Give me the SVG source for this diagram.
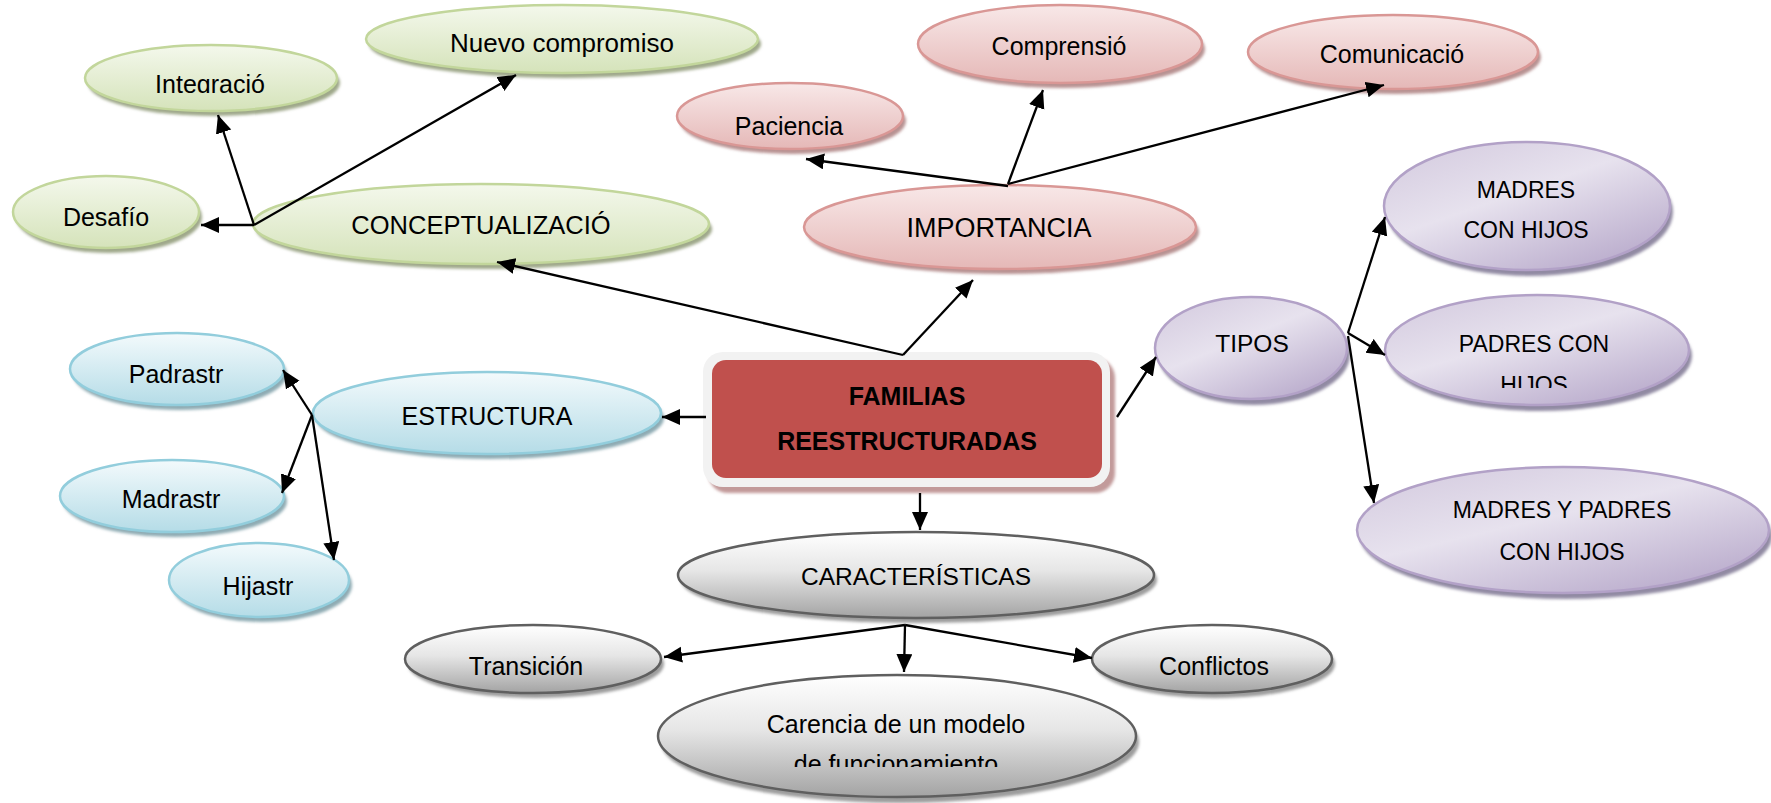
<svg xmlns="http://www.w3.org/2000/svg" width="1771" height="803" viewBox="0 0 1771 803">
<style>
text{font-family:"Liberation Sans",Arial,sans-serif;font-size:25px;fill:#000;text-anchor:middle}
.conn{fill:none;stroke:#000;stroke-width:2.3;marker-end:url(#ah)}
.sh{filter:url(#blur)}
.g{fill:url(#gG);stroke:#c2d69b;stroke-width:2.5}
.gs{fill:#9fa88a}
.r{fill:url(#gR);stroke:#d99795;stroke-width:2.5}
.rs{fill:#b89292}
.b{fill:url(#gB);stroke:#92cddc;stroke-width:2.5}
.bs{fill:#8eabb3}
.p{fill:url(#gP);stroke:#b2a1c7;stroke-width:2.5}
.ps{fill:#918aa3}
.k{fill:url(#gK);stroke:#5f5f5f;stroke-width:2.5}
.ks{fill:#9c9c9c}
.bold{font-weight:bold}
</style>
<defs>
<filter id="blur" x="-10%" y="-20%" width="120%" height="140%"><feGaussianBlur stdDeviation="1.5"/></filter>
<linearGradient id="gG" x1="0" y1="0" x2="0" y2="1"><stop offset="0" stop-color="#f4f8ec"/><stop offset="1" stop-color="#d5e3ba"/></linearGradient>
<linearGradient id="gR" x1="0" y1="0" x2="0" y2="1"><stop offset="0" stop-color="#f8e8e8"/><stop offset="1" stop-color="#e5b8b7"/></linearGradient>
<linearGradient id="gB" x1="0" y1="0" x2="0" y2="1"><stop offset="0" stop-color="#f3fafc"/><stop offset="1" stop-color="#b5dce7"/></linearGradient>
<linearGradient id="gP" x1="0.2" y1="0.1" x2="0.9" y2="1"><stop offset="0" stop-color="#d9d1e3"/><stop offset="0.35" stop-color="#e7e2ee"/><stop offset="1" stop-color="#b4a5c8"/></linearGradient>
<linearGradient id="gK" x1="0" y1="0" x2="0" y2="1"><stop offset="0" stop-color="#ffffff"/><stop offset="0.45" stop-color="#e6e6e6"/><stop offset="1" stop-color="#a3a3a3"/></linearGradient>
<marker id="ah" markerUnits="userSpaceOnUse" markerWidth="20" markerHeight="18" refX="18" refY="8" orient="auto"><path d="M0,0 L18,8 L0,16 z" fill="#000"/></marker>
<clipPath id="clipInt"><rect x="0" y="0" width="400" height="93"/></clipPath>
<clipPath id="clipHijos"><rect x="1380" y="360" width="320" height="28"/></clipPath>
<clipPath id="clipFunc"><rect x="650" y="740" width="500" height="27"/></clipPath>
</defs>

<g id="familias">
<rect x="708" y="358" width="407" height="135" rx="20" fill="#c29a9a" class="sh"/>
<rect x="703" y="352" width="407" height="135" rx="20" fill="#f2f2f2"/>
<rect x="712" y="360" width="390" height="118" rx="14" fill="#c0504d"/>
<text x="907" y="405" class="bold">FAMILIAS</text>
<text x="907" y="450" class="bold">REESTRUCTURADAS</text>
</g>

<g id="conceptualizacion">
<ellipse cx="484" cy="229" rx="228" ry="40" class="gs sh"/>
<ellipse cx="481" cy="224" rx="228" ry="40" class="g"/>
<text x="481" y="234" style="font-size:25.5px">CONCEPTUALIZACIÓ</text>
</g>
<g id="desafio">
<ellipse cx="109" cy="217" rx="93" ry="36" class="gs sh"/>
<ellipse cx="106" cy="212" rx="93" ry="36" class="g"/>
<text x="106" y="226">Desafío</text>
</g>
<g id="integracion">
<ellipse cx="214" cy="83" rx="126" ry="33" class="gs sh"/>
<ellipse cx="211" cy="78" rx="126" ry="33" class="g"/>
<text x="210" y="93" clip-path="url(#clipInt)">Integració</text>
</g>
<g id="nuevo">
<ellipse cx="565" cy="44" rx="196" ry="34" class="gs sh"/>
<ellipse cx="562" cy="39" rx="196" ry="34" class="g"/>
<text x="562" y="52" style="font-size:26px">Nuevo compromiso</text>
</g>

<g id="importancia">
<ellipse cx="1003" cy="232" rx="196" ry="42" class="rs sh"/>
<ellipse cx="1000" cy="227" rx="196" ry="42" class="r"/>
<text x="999" y="237" style="font-size:27px">IMPORTANCIA</text>
</g>
<g id="paciencia">
<ellipse cx="793" cy="121" rx="113" ry="33" class="rs sh"/>
<ellipse cx="790" cy="116" rx="113" ry="33" class="r"/>
<text x="789" y="135">Paciencia</text>
</g>
<g id="comprension">
<ellipse cx="1063" cy="49" rx="142" ry="39" class="rs sh"/>
<ellipse cx="1060" cy="44" rx="142" ry="39" class="r"/>
<text x="1059" y="55">Comprensió</text>
</g>
<g id="comunicacion">
<ellipse cx="1396" cy="57" rx="145" ry="37" class="rs sh"/>
<ellipse cx="1393" cy="52" rx="145" ry="37" class="r"/>
<text x="1392" y="63">Comunicació</text>
</g>

<g id="estructura">
<ellipse cx="490" cy="418" rx="174" ry="41" class="bs sh"/>
<ellipse cx="487" cy="413" rx="174" ry="41" class="b"/>
<text x="487" y="425">ESTRUCTURA</text>
</g>
<g id="padrastr">
<ellipse cx="180" cy="374" rx="107" ry="36" class="bs sh"/>
<ellipse cx="177" cy="369" rx="107" ry="36" class="b"/>
<text x="176" y="383">Padrastr</text>
</g>
<g id="madrastr">
<ellipse cx="175" cy="501" rx="112" ry="36" class="bs sh"/>
<ellipse cx="172" cy="496" rx="112" ry="36" class="b"/>
<text x="171" y="508">Madrastr</text>
</g>
<g id="hijastr">
<ellipse cx="262" cy="585" rx="90" ry="37" class="bs sh"/>
<ellipse cx="259" cy="580" rx="90" ry="37" class="b"/>
<text x="258" y="595">Hijastr</text>
</g>

<g id="tipos">
<ellipse cx="1254" cy="354" rx="96" ry="51" class="ps sh"/>
<ellipse cx="1251" cy="348" rx="96" ry="51" class="p"/>
<text x="1252" y="352" style="font-size:24.5px">TIPOS</text>
</g>
<g id="madres">
<ellipse cx="1530" cy="212" rx="143" ry="64" class="ps sh"/>
<ellipse cx="1527" cy="206" rx="143" ry="64" class="p"/>
<text x="1526" y="198" style="font-size:23px">MADRES</text>
<text x="1526" y="238" style="font-size:23px">CON HIJOS</text>
</g>
<g id="padres">
<ellipse cx="1540" cy="356" rx="152" ry="55" class="ps sh"/>
<ellipse cx="1537" cy="350" rx="152" ry="55" class="p"/>
<text x="1534" y="352" style="font-size:23px">PADRES CON</text>
<text x="1534" y="393" style="font-size:23px" clip-path="url(#clipHijos)">HIJOS</text>
</g>
<g id="madrespadres">
<ellipse cx="1566" cy="536" rx="206" ry="63" class="ps sh"/>
<ellipse cx="1563" cy="530" rx="206" ry="63" class="p"/>
<text x="1562" y="518" style="font-size:23px">MADRES Y PADRES</text>
<text x="1562" y="560" style="font-size:23px">CON HIJOS</text>
</g>

<g id="caracteristicas">
<ellipse cx="919" cy="580" rx="238" ry="43" class="ks sh"/>
<ellipse cx="916" cy="575" rx="238" ry="43" class="k"/>
<text x="916" y="585" style="font-size:24.5px">CARACTERÍSTICAS</text>
</g>
<g id="transicion">
<ellipse cx="536" cy="664" rx="128" ry="34" class="ks sh"/>
<ellipse cx="533" cy="659" rx="128" ry="34" class="k"/>
<text x="526" y="675">Transición</text>
</g>
<g id="conflictos">
<ellipse cx="1215" cy="664" rx="120" ry="34" class="ks sh"/>
<ellipse cx="1212" cy="659" rx="120" ry="34" class="k"/>
<text x="1214" y="675">Conflictos</text>
</g>
<g id="carencia">
<ellipse cx="900" cy="742" rx="239" ry="61" class="ks sh"/>
<ellipse cx="897" cy="736" rx="239" ry="61" class="k"/>
<text x="896" y="733">Carencia de un modelo</text>
<text x="896" y="773" clip-path="url(#clipFunc)">de funcionamiento</text>
</g>

<g id="connectors">
<path class="conn" d="M706,417 L662,417"/>
<path class="conn" d="M312,415 L283,370"/>
<path class="conn" d="M312,415 L282,493"/>
<path class="conn" d="M312,415 L334,560"/>
<path class="conn" d="M903,355 L497,262"/>
<path class="conn" d="M903,355 L973,280"/>
<path class="conn" d="M254,225 L201,225"/>
<path class="conn" d="M254,225 L218,115"/>
<path class="conn" d="M254,225 L516,75"/>
<path class="conn" d="M1008,186 L806,159"/>
<path class="conn" d="M1008,184 L1043,90"/>
<path class="conn" d="M1008,184 L1384,85"/>
<path class="conn" d="M1117,417 L1156,357"/>
<path class="conn" d="M1348,333 L1385,217"/>
<path class="conn" d="M1348,333 L1385,355"/>
<path class="conn" d="M1348,336 L1374,503"/>
<path class="conn" d="M920,493 L920,530"/>
<path class="conn" d="M905,625 L664,657"/>
<path class="conn" d="M905,625 L904,672"/>
<path class="conn" d="M905,625 L1092,658"/>
</g>
</svg>
